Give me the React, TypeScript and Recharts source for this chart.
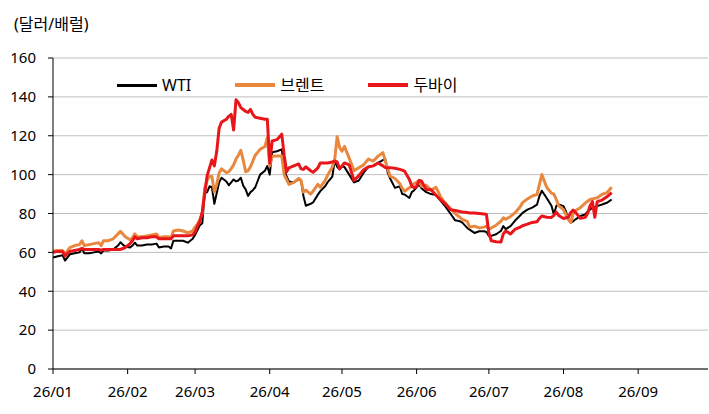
import React from 'react';
import { LineChart, Line, XAxis, YAxis, CartesianGrid } from 'recharts';

const dates = [
  '01-01','01-03','01-05','01-06','01-08','01-10','01-12','01-13','01-14','01-16','01-18','01-20','01-21','01-22','01-24','01-26','01-28','01-29','01-30','01-31',
  '02-02','02-03','02-04','02-05','02-07','02-09','02-11','02-13','02-14','02-16','02-18','02-19','02-20','02-22','02-24','02-26','02-28',
  '03-01','03-02','03-03','03-04','03-05','03-06','03-07','03-08','03-09','03-10','03-11','03-12','03-14','03-15','03-16','03-17','03-18','03-19','03-20','03-21','03-22','03-23','03-24','03-25','03-26','03-28','03-30','03-31',
  '04-01','04-02','04-04','04-06','04-07','04-08','04-09','04-11','04-13','04-14','04-15','04-16','04-18','04-19','04-21','04-22','04-24','04-25','04-27','04-28','04-29','04-30',
  '05-01','05-02','05-04','05-06','05-08','05-10','05-12','05-14','05-16','05-18','05-19','05-20','05-21','05-23','05-25','05-26','05-27','05-29','05-30','05-31',
  '06-01','06-02','06-03','06-05','06-07','06-09','06-11','06-13','06-15','06-17','06-19','06-20','06-22','06-23','06-25','06-27','06-29','06-30',
  '07-01','07-02','07-04','07-06','07-07','07-08','07-10','07-12','07-14','07-15','07-17','07-19','07-21','07-22','07-23','07-25','07-27','07-28','07-29','07-30',
  '08-01','08-02','08-03','08-04','08-05','08-06','08-08','08-10','08-11','08-12','08-13','08-14','08-15','08-17','08-19','08-21',
];

const wti = [
  57.3, 58, 58.5, 55.8, 59, 59.5, 60, 62, 59.5, 59.5, 60, 60.5, 59.5, 61, 61, 61.5, 63.5, 65.2, 64, 63,
  62.5, 63.5, 65, 63.5, 63.5, 64, 64, 64.5, 62.5, 63, 63, 62, 66, 66, 66, 65, 67,
  69, 71.5, 74, 75, 90.5, 91, 94, 93.5, 85, 90.5, 96, 98.4, 96.5, 94.5, 96, 97.5, 96.5, 97, 98.4, 94.3, 92.4, 89, 91, 92, 93.5, 100, 102, 104.4,
  100, 111.5, 112, 113, 103, 99, 96.5, 96, 97.5, 97, 89, 84, 85, 85.7, 89.7, 91.5, 94, 96, 99, 107.5, 104, 102.7,
  104, 104, 100, 96, 97, 101, 104, 104.5, 106, 107.5, 108, 101, 98, 93.2, 94, 90, 89.8, 88, 91, 92,
  93.4, 95, 93, 91, 90, 89.5, 86.5, 83.5, 80, 76.5, 76, 75.3, 72.6, 71.7, 70, 70.9, 70.9, 70.5,
  68.5, 68.5, 69.3, 71, 73.5, 72, 73.5, 76.5, 79, 80.3, 82, 83, 84.6, 89, 91.7, 88, 84, 79.5, 83.9, 84.6,
  83.8, 81.1, 77, 75.3, 76, 77, 78.7, 79.5, 81, 82, 83, 83.3, 83.8, 84.6, 85.5, 87.2,
];

const brent = [
  60.5, 61, 61, 59, 62.5, 63.5, 64, 66, 63.5, 64, 64.5, 65, 63.5, 66, 66, 67, 69.5, 70.8, 69.5, 68,
  66.5, 67.5, 69.5, 68, 68, 68.5, 69, 69.5, 67.5, 68, 68, 67.5, 71, 71.5, 71, 70, 71,
  73, 74.5, 77, 80, 93, 97, 99, 99, 91, 95, 101, 103, 101, 101.5, 103, 105, 108, 110, 112.5, 107.5, 101.5, 102, 104, 107, 110, 113, 114.5, 119,
  104.5, 109.5, 109.6, 109.6, 100, 97.5, 95, 96, 98, 97, 91, 92, 90, 91.5, 95, 93.5, 97, 99.5, 104, 108, 119.5, 114,
  112, 114.5, 108.5, 102, 103.5, 105, 108, 107, 109.5, 111.3, 107, 103, 99.2, 98, 95.4, 93, 91.5, 93.2, 94, 95.4,
  96, 97, 94, 94.5, 92, 93.5, 88.5, 85, 82.5, 80, 78, 77, 76, 73, 73.5, 72.6, 73, 73.5,
  72, 72.5, 74, 76, 77.8, 77, 78.5, 80.5, 83.5, 85.6, 87.5, 89, 89.8, 95, 100, 93.5, 90.5, 90, 87.2, 84,
  82, 79.5, 77, 75.3, 80, 81.5, 83, 85.3, 86.3, 87.2, 87.5, 87.8, 88.1, 89.8, 90.7, 93.5,
];

const dubai = [
  60, 60.5, 60.3, 58.2, 60.5, 61, 61.5, 62, 61.5, 61.5, 61.5, 61.5, 61, 61.5, 61.5, 61.5, 61.5, 61.5, 62, 62.5,
  64.5, 66, 68, 67, 67.5, 67.5, 68, 68, 67, 67, 67, 67, 68.5, 68.5, 68.5, 68.5, 69,
  70.5, 73.5, 76, 81, 90, 99.5, 103.5, 107.5, 104.5, 112, 124, 127, 128.5, 130, 131, 123, 138.5, 137, 134.5, 133.5, 132.5, 132, 133.6, 131, 129.5, 129, 128.5, 128.5,
  106, 117.3, 118, 120.8, 110, 101.5, 103.5, 104.5, 105.5, 103, 102.7, 104, 102, 101.2, 103.5, 106, 106, 106, 106.5, 107, 106.5, 103,
  104.4, 106, 105, 97, 99.5, 102.5, 104, 104.5, 106, 104.5, 103.6, 103.6, 103.6, 103.3, 102.7, 102.3, 101.8, 97.5, 94, 93.2,
  94, 97, 96.7, 92.4, 92.2, 89.5, 87, 85, 82, 81.5, 81, 80.8, 80.5, 80.3, 80.2, 80, 79.7, 79.5,
  70, 66, 65.5, 65.3, 69.5, 71, 69.5, 72, 73, 73.7, 74.5, 75.4, 75.8, 77.5, 78.7, 78.1, 78, 79, 80.7, 79,
  77.4, 77.8, 78.1, 80.5, 81.7, 80.6, 77.5, 78, 80, 84, 86.1, 78.1, 86.1, 86.9, 88.6, 90.7,
];

const monthTicks = ['01-01', '02-01', '03-01', '04-01', '05-01', '06-01', '07-01', '08-01', '09-01'];
const monthLabels = ['26/01', '26/02', '26/03', '26/04', '26/05', '26/06', '26/07', '26/08', '26/09'];
const axisEnd = '09-30';
const yTicks = [0, 20, 40, 60, 80, 100, 120, 140, 160];

const seriesNames = ['WTI', '브렌트', '두바이'];
const seriesColors = ['#000000', '#E8883F', '#E8161B'];
const seriesWidths = [2, 3, 3];
const seriesKeys = ['wti', 'brent', 'dubai'];

const dayOf = (md: string) => {
  const [m, d] = md.split('-').map(Number);
  return (Date.UTC(2026, m - 1, d) - Date.UTC(2026, 0, 1)) / 86400000;
};

const data = dates.map((md, i) => ({ day: dayOf(md), wti: wti[i], brent: brent[i], dubai: dubai[i] }));
const tickDays = monthTicks.map(dayOf);
const labelByDay = new Map<number, string>(tickDays.map((d, i) => [d, monthLabels[i]]));

const FONT = "'Noto Sans', 'Noto Sans CJK KR', sans-serif";

export default function App() {
  return (
    <div style={{ position: 'absolute', left: 0, top: 0, width: 709, height: 414, background: '#fff', fontFamily: FONT }}>
      <div style={{ position: 'absolute', left: 14, top: 12, fontSize: 16, color: '#000', lineHeight: '24px', whiteSpace: 'nowrap' }}>
        (달러/배럴)
      </div>
      <LineChart width={709} height={414} data={data} margin={{ top: 58, right: 1, bottom: 15, left: 0 }}>
        <CartesianGrid vertical={false} stroke="#bfbfbf" strokeWidth={1} />
        <XAxis
          dataKey="day"
          type="number"
          domain={[0, dayOf(axisEnd)]}
          ticks={tickDays}
          interval={0}
          allowDataOverflow
          tickFormatter={(v: number) => labelByDay.get(v) ?? ''}
          height={30}
          tickSize={5}
          tickMargin={12}
          axisLine={{ stroke: '#000', strokeWidth: 1 }}
          tickLine={{ stroke: '#000', strokeWidth: 1 }}
          tick={{ fill: '#000', fontSize: 15, fontFamily: FONT }}
        />
        <YAxis
          domain={[0, 160]}
          ticks={yTicks}
          interval={0}
          width={53}
          tickSize={5}
          tickMargin={12}
          axisLine={{ stroke: '#000', strokeWidth: 1 }}
          tickLine={{ stroke: '#000', strokeWidth: 1 }}
          tick={{ fill: '#000', fontSize: 15, fontFamily: FONT }}
        />
        {seriesKeys.map((k, i) => (
          <Line
            key={k}
            type="linear"
            dataKey={k}
            name={seriesNames[i]}
            stroke={seriesColors[i]}
            strokeWidth={seriesWidths[i]}
            dot={false}
            activeDot={false}
            isAnimationActive={false}
            strokeLinejoin="round"
          />
        ))}
      </LineChart>
      <div style={{ position: 'absolute', left: 117, top: 73, display: 'flex', alignItems: 'center', gap: 44, fontSize: 16, color: '#000', whiteSpace: 'nowrap' }}>
        {seriesNames.map((n, i) => (
          <div key={n} style={{ display: 'flex', alignItems: 'center' }}>
            <div style={{ width: 40, height: seriesWidths[i] + 1, background: seriesColors[i], marginRight: 5 }} />
            <span style={{ lineHeight: '24px' }}>{n}</span>
          </div>
        ))}
      </div>
    </div>
  );
}
